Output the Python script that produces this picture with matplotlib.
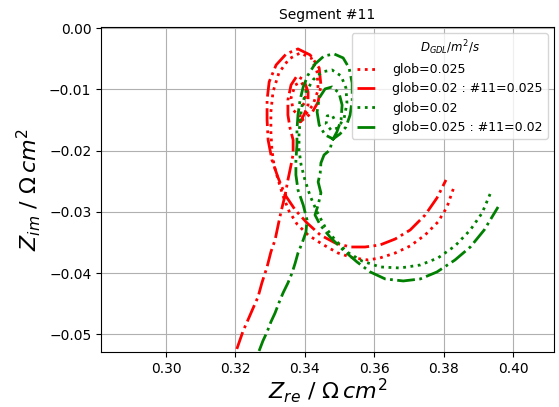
import numpy as np
import matplotlib
matplotlib.use("Agg")
import matplotlib.pyplot as plt

# Nyquist data of segment #11 (Z_re, Z_im in Ohm cm^2)
# glob=0.025
zre_r1 = [0.3827, 0.3809, 0.3783, 0.3746, 0.3703, 0.3660, 0.3616, 0.3582, 0.3539, 0.3495,
          0.3449, 0.3409, 0.3377, 0.3354, 0.3337, 0.3323, 0.3311, 0.3305, 0.3302, 0.3302,
          0.3308, 0.3325, 0.3354, 0.3386, 0.3418, 0.3435, 0.3438, 0.3423, 0.3403, 0.3383,
          0.3366, 0.3360, 0.3372, 0.3389, 0.3403, 0.3400, 0.3389]
zim_r1 = [-0.02626, -0.02920, -0.03165, -0.03377, -0.03557, -0.03672, -0.03753, -0.03786, -0.03753, -0.03672,
          -0.03525, -0.03377, -0.03198, -0.02985, -0.02740, -0.02479, -0.02234, -0.01988, -0.01694, -0.01368,
          -0.01041, -0.00730, -0.00502, -0.00404, -0.00485, -0.00714, -0.01008, -0.01253, -0.01400, -0.01433,
          -0.01335, -0.01139, -0.00926, -0.00877, -0.01008, -0.01204, -0.01302]

# glob=0.02 : #11=0.025
zre_r2 = [0.3204, 0.3222, 0.3236, 0.3251, 0.3265, 0.3276, 0.3291, 0.3302, 0.3314, 0.3323,
          0.3331, 0.3343, 0.3351, 0.3360, 0.3366, 0.3366, 0.3357, 0.3351, 0.3351, 0.3360,
          0.3377, 0.3397, 0.3409, 0.3409, 0.3397, 0.3386, 0.3400, 0.3420, 0.3438, 0.3446,
          0.3441, 0.3415, 0.3380, 0.3346, 0.3317, 0.3297, 0.3291, 0.3291, 0.3294, 0.3305,
          0.3323, 0.3343, 0.3372, 0.3406, 0.3444, 0.3487, 0.3530, 0.3573, 0.3616, 0.3660,
          0.3703, 0.3746, 0.3780, 0.3806]
zim_r2 = [-0.05240, -0.04946, -0.04766, -0.04570, -0.04390, -0.04162, -0.03900, -0.03655, -0.03459, -0.03214,
          -0.03002, -0.02724, -0.02479, -0.02234, -0.02054, -0.01825, -0.01629, -0.01417, -0.01172, -0.00926,
          -0.00779, -0.00845, -0.01041, -0.01253, -0.01417, -0.01531, -0.01466, -0.01384, -0.01204, -0.00926,
          -0.00649, -0.00436, -0.00338, -0.00420, -0.00600, -0.00877, -0.01172, -0.01498, -0.01825, -0.02152,
          -0.02446, -0.02724, -0.02969, -0.03181, -0.03377, -0.03508, -0.03574, -0.03574, -0.03541, -0.03443,
          -0.03296, -0.03051, -0.02773, -0.02479]

# glob=0.02
zre_g1 = [0.3933, 0.3910, 0.3876, 0.3832, 0.3783, 0.3732, 0.3674, 0.3616, 0.3564, 0.3521,
          0.3487, 0.3458, 0.3435, 0.3415, 0.3400, 0.3389, 0.3383, 0.3383, 0.3386, 0.3392,
          0.3403, 0.3423, 0.3449, 0.3478, 0.3504, 0.3518, 0.3521, 0.3513, 0.3495, 0.3475,
          0.3461, 0.3464, 0.3478, 0.3487]
zim_g1 = [-0.02708, -0.03018, -0.03296, -0.03557, -0.03753, -0.03868, -0.03917, -0.03900, -0.03802, -0.03655,
          -0.03459, -0.03247, -0.03002, -0.02740, -0.02479, -0.02234, -0.01988, -0.01743, -0.01498, -0.01253,
          -0.01041, -0.00845, -0.00714, -0.00681, -0.00779, -0.00975, -0.01221, -0.01466, -0.01629, -0.01662,
          -0.01564, -0.01433, -0.01417, -0.01515]

# glob=0.025 : #11=0.02
zre_g2 = [0.3268, 0.3279, 0.3291, 0.3302, 0.3314, 0.3325, 0.3337, 0.3351, 0.3363, 0.3372,
          0.3380, 0.3392, 0.3403, 0.3406, 0.3395, 0.3380, 0.3374, 0.3374, 0.3377, 0.3377,
          0.3380, 0.3386, 0.3395, 0.3409, 0.3429, 0.3455, 0.3484, 0.3510, 0.3527, 0.3536,
          0.3536, 0.3530, 0.3518, 0.3501, 0.3481, 0.3458, 0.3441, 0.3435, 0.3441, 0.3458,
          0.3478, 0.3498, 0.3507, 0.3504, 0.3492, 0.3478, 0.3472, 0.3455, 0.3446, 0.3444,
          0.3438, 0.3446, 0.3438, 0.3429, 0.3444, 0.3472, 0.3510, 0.3550, 0.3588, 0.3631,
          0.3683, 0.3732, 0.3780, 0.3832, 0.3876, 0.3916, 0.3956]
zim_g2 = [-0.05273, -0.05109, -0.04962, -0.04799, -0.04652, -0.04488, -0.04325, -0.04162, -0.03998, -0.03835,
          -0.03672, -0.03508, -0.03329, -0.03132, -0.02887, -0.02642, -0.02397, -0.02152, -0.01907, -0.01662,
          -0.01417, -0.01172, -0.00959, -0.00763, -0.00584, -0.00453, -0.00420, -0.00485, -0.00649, -0.00894,
          -0.01172, -0.01417, -0.01613, -0.01727, -0.01809, -0.01743, -0.01580, -0.01368, -0.01139, -0.00991,
          -0.00959, -0.01057, -0.01253, -0.01498, -0.01694, -0.01841, -0.01988, -0.02070, -0.02201, -0.02364,
          -0.02511, -0.02691, -0.02887, -0.03051, -0.03214, -0.03410, -0.03623, -0.03819, -0.03982, -0.04096,
          -0.04129, -0.04096, -0.03982, -0.03786, -0.03574, -0.03296, -0.02920]

fig = plt.figure(figsize=(5.59, 4.07), dpi=100)
ax = fig.add_axes([0.1807, 0.1351, 0.8104, 0.7985])

ax.plot(zre_r1, zim_r1, ':', color='red', lw=2, label='glob=0.025')
ax.plot(zre_r2, zim_r2, '-.', color='red', lw=2, label='glob=0.02 : #11=0.025')
ax.plot(zre_g1, zim_g1, ':', color='green', lw=2, label='glob=0.02')
ax.plot(zre_g2, zim_g2, '-.', color='green', lw=2, label='glob=0.025 : #11=0.02')

ax.set_xlim(0.2813, 0.4117)
ax.set_ylim(-0.0529, 0.0002)
ax.set_xticks([0.30, 0.32, 0.34, 0.36, 0.38, 0.40])
ax.set_yticks([0.00, -0.01, -0.02, -0.03, -0.04, -0.05])
ax.tick_params(labelsize=10)
ax.grid(True)

ax.set_title('Segment #11', fontsize=10)
ax.set_xlabel(r'$Z_{re}$ / $\Omega\, cm^2$', fontsize=16, labelpad=0)
ax.set_ylabel(r'$Z_{im}$ / $\Omega\, cm^2$', fontsize=16)
ax.legend(title=r'$D_{GDL}/m^2/s$', loc='upper right', fontsize=9,
          title_fontsize=8.5, handlelength=1.75, handletextpad=1.1)

fig.savefig('out.png', dpi=100)
